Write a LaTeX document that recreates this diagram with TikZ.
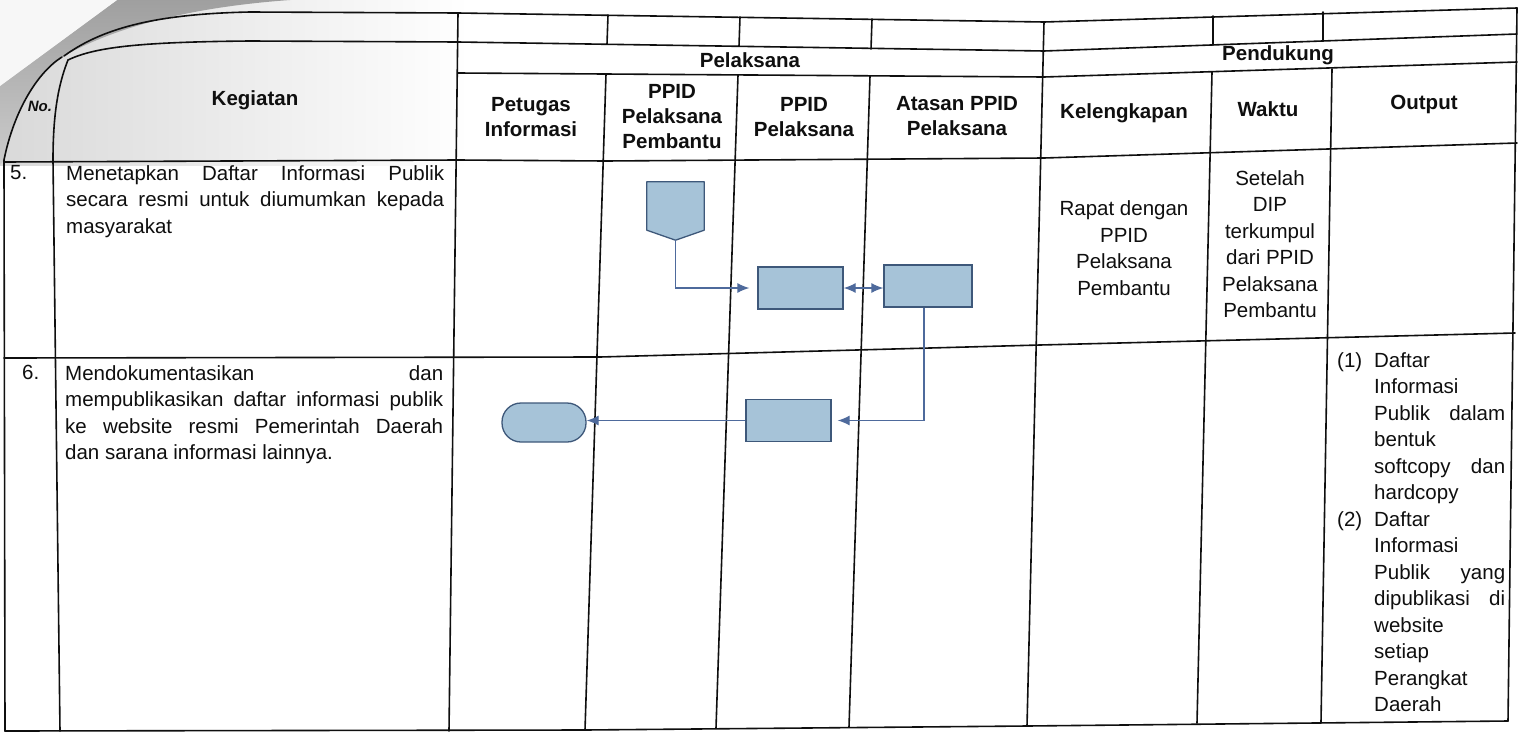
\documentclass[tikz,border=0pt]{standalone}
\usepackage{fontspec}
\setmainfont{Liberation Sans}
\usetikzlibrary{arrows.meta,calc}
\definecolor{boxfill}{RGB}{166,195,216}
\definecolor{boxline}{RGB}{62,88,122}
\definecolor{arrowc}{RGB}{78,106,156}
\definecolor{ink}{RGB}{15,15,15}
\newcommand{\outln}[2]{\hbox{\hbox to 37pt{#1\hfil}\hbox to 131pt{#2}}}
\tikzset{
  arrowtip/.tip={Latex[length=12pt,width=10pt]},
  tbl/.style={line width=1.6pt, draw=ink, line join=round, line cap=round},
  txt/.style={font=\fontsize{20.5}{26.5}\selectfont, text=ink, inner sep=0pt},
  hdr/.style={font=\fontsize{20.5}{25}\selectfont\bfseries, text=ink, align=center, inner sep=0pt},
  flow/.style={draw=boxline, fill=boxfill, line width=1.3pt, minimum width=85pt, minimum height=42pt, inner sep=0pt},
  conn/.style={draw=arrowc, line width=1.3pt, -arrowtip},
  conn2/.style={draw=arrowc, line width=1.3pt, arrowtip-arrowtip},
}
\begin{document}
\begin{tikzpicture}[x=1pt, y=-1pt]
\useasboundingbox (0,0) rectangle (1518,731);
\fill[white] (0,0) rectangle (1518,731);
% scan shading of the curled corner
\shade[left color=gray!30, right color=white] (0,0) rectangle (470,165);
\shade[top color=gray!75, bottom color=gray!40] (117,0) -- (0,86) -- (0,165) -- (4,160) .. controls (14,110) and (38,72) .. (62,57) .. controls (110,30) and (180,8) .. (290,0) -- cycle;
\fill[white!94!gray] (0,0) -- (117,0) -- (0,86) -- cycle;

% horizontal lines
\draw[tbl] (64,56) .. controls (100,30) and (150,14) .. (250,12) -- (458,13) -- (1044,22) -- (1517,8);
\draw[tbl] (68,60) .. controls (95,47) and (140,42) .. (250,41) -- (458,42) -- (1044,51) -- (1517,34);
\draw[tbl] (458,73) -- (1044,77) -- (1517,62);
\draw[tbl] (4,162) -- (458,160) -- (605,161) -- (1044,158) -- (1517,143);
\draw[tbl] (4,358) -- (600,357) -- (1040,345) -- (1515,333);
\draw[tbl] (5,731) -- (585,730) -- (1027,726) -- (1508,721);

% vertical lines
\draw[tbl] (62,57) .. controls (38,72) and (14,110) .. (4,160) -- (5,731);
\draw[tbl] (68,60) .. controls (58,85) and (53,115) .. (53,160) -- (60,731);
\draw[tbl] (458,13) -- (449,731);
\draw[tbl] (608,15) -- (607,44);  \draw[tbl] (606,74) -- (585,730);
\draw[tbl] (740,17) -- (739,46);  \draw[tbl] (738,75) -- (716,728);
\draw[tbl] (872,19) -- (871,49);  \draw[tbl] (870,76) -- (849,727);
\draw[tbl] (1044,22) -- (1027,726);
\draw[tbl] (1213,16) -- (1213,45); \draw[tbl] (1212,72) -- (1197,723);
\draw[tbl] (1323,12) -- (1323,41); \draw[tbl] (1332,69) -- (1321,722);
\draw[tbl] (1517,8) -- (1508,721);

% header texts
\node[hdr] (hno) at (40,106) {\fontsize{15}{15}\selectfont\bfseries\itshape No.};
\node[hdr] (hkeg) at (255,100) {Kegiatan};
\node[hdr] (hpel) at (750,60) {Pelaksana};
\node[hdr] (hpen) at (1278,55) {Pendukung};
\node[hdr] (hpet) at (531,117) {Petugas\\Informasi};
\node[hdr] (hppp) at (672,117) {PPID\\Pelaksana\\Pembantu};
\node[hdr] (hpp) at (804,117) {PPID\\Pelaksana};
\node[hdr] (hat) at (957,116) {Atasan PPID\\Pelaksana};
\node[hdr] (hkel) at (1124,113) {Kelengkapan};
\node[hdr] (hwak) at (1268,109) {Waktu};
\node[hdr] (hout) at (1424,104) {Output};

% row 5
\node[txt, anchor=north west] (n5) at (10,165) {5.};
\node[txt, anchor=north west] (k5) at (66,165) {\vbox{%
  \hbox to 378pt{Menetapkan\hfill Daftar\hfill Informasi\hfill Publik}
  \hbox to 378pt{secara\hfill resmi\hfill untuk\hfill diumumkan\hfill kepada}
  \hbox{masyarakat}}};
\node[txt, align=center] (kel5) at (1124,248) {Rapat dengan\\PPID\\Pelaksana\\Pembantu};
\node[txt, align=center] (wak5) at (1270,244) {Setelah\\DIP\\terkumpul\\dari PPID\\Pelaksana\\Pembantu};

% row 6
\node[txt, anchor=north west] (n6) at (22,365) {6.};
\node[txt, anchor=north west] (k6) at (65,365) {\vbox{%
  \hbox to 378pt{Mendokumentasikan\hfill dan}
  \hbox to 378pt{mempublikasikan\hfill daftar\hfill informasi\hfill publik}
  \hbox to 378pt{ke\hfill website\hfill resmi\hfill Pemerintah\hfill Daerah}
  \hbox{dan sarana informasi lainnya.}}};
\node[txt, anchor=north west] (out6) at (1337,352) {\vbox{%
  \outln{(1)}{Daftar\hfil}
  \outln{}{Informasi\hfil}
  \outln{}{Publik\hfill dalam}
  \outln{}{bentuk\hfil}
  \outln{}{softcopy\hfill dan}
  \outln{}{hardcopy\hfil}
  \outln{(2)}{Daftar\hfil}
  \outln{}{Informasi\hfil}
  \outln{}{Publik\hfill yang}
  \outln{}{dipublikasi\hfill di}
  \outln{}{website\hfil}
  \outln{}{setiap\hfil}
  \outln{}{Perangkat\hfil}
  \outln{}{Daerah\hfil}}};

% flow shapes
\node[minimum width=57pt, minimum height=58pt, inner sep=0pt] (offp) at (675.5,211) {};
\filldraw[draw=boxline, fill=boxfill, line width=1.3pt, line join=round] (offp.north west) -- (offp.north east) -- ([yshift=10pt]offp.south east) -- (offp.south) -- ([yshift=10pt]offp.south west) -- cycle;
\node[flow] (b1) at (800.5,288) {};
\node[flow, minimum width=88pt] (b2) at (928,286) {};
\node[flow] (b3) at (788.5,420.5) {};
\node[flow, minimum width=84pt, minimum height=39pt, rounded corners=19pt] (term) at (544,422.5) {};

% connectors
\draw[conn, shorten >=8pt] (offp.south) |- (b1.west);
\draw[conn2] (b1.east) -- (b1.east -| b2.west);
\draw[conn, shorten >=6pt] ([xshift=-4pt]b2.south) |- (b3.east);
\draw[conn] (b3.west) -- (b3.west -| term.east);
\end{tikzpicture}
\end{document}
